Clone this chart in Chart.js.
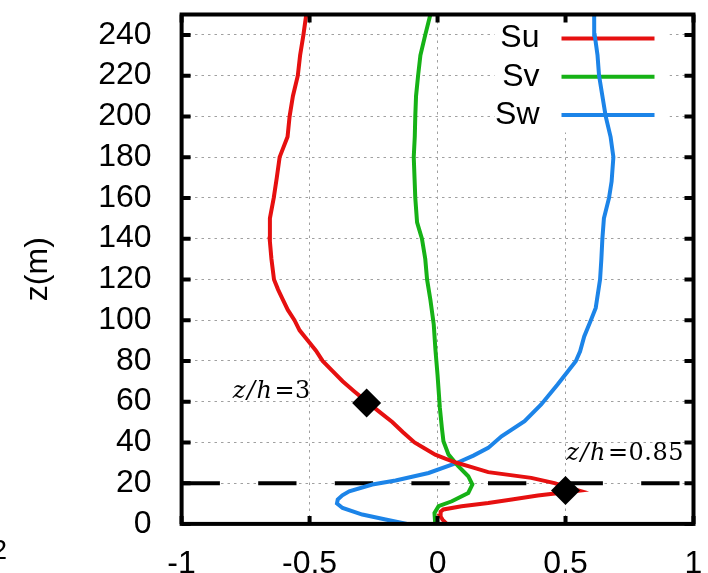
<!DOCTYPE html>
<html>
<head>
<meta charset="utf-8">
<script src="https://cdn.jsdelivr.net/npm/chart.js@4"></script>
<style>
html, body { margin: 0; padding: 0; background: #fff; overflow: hidden; }
#wrap { width: 708px; height: 573px; overflow: hidden; }
</style>
</head>
<body>
<div id="wrap"><canvas id="chart" width="708" height="600"></canvas></div>
<script>
// profiles: heights in m, values dimensionless
const heightsSu = [0, 2, 4, 6, 7.1, 8.7, 10.3, 12, 13.9, 15.5, 16.3, 17.5, 20, 22.6, 25.4, 28, 30, 32, 34, 37, 40, 45, 50, 55, 60, 65, 70, 75, 80, 85, 90, 95, 100, 105, 110, 115, 120, 130, 140, 150, 160, 170, 180, 190, 200, 210, 220, 230, 240, 250]
const valuesSu = [0.036, 0.02, 0.01, 0.012, 0.023, 0.094, 0.198, 0.29, 0.392, 0.5, 0.553, 0.52, 0.457, 0.366, 0.198, 0.13, 0.075, 0.03, -0.009, -0.05, -0.09, -0.135, -0.177, -0.227, -0.277, -0.325, -0.371, -0.41, -0.449, -0.475, -0.507, -0.539, -0.559, -0.585, -0.604, -0.623, -0.639, -0.649, -0.656, -0.655, -0.64, -0.628, -0.617, -0.586, -0.578, -0.565, -0.546, -0.537, -0.524, -0.513]

const heightsSv = [0, 5.4, 8.7, 11.1, 15.2, 19.3, 23.4, 28.3, 34, 40.6, 47, 57, 73, 85, 98, 110, 120, 130, 140, 148, 160, 170, 180, 190, 200, 210, 220, 230, 240, 250]
const valuesSv = [-0.009, -0.012, 0.004, 0.056, 0.12, 0.136, 0.12, 0.081, 0.043, 0.023, 0.017, 0.009, 0.0, -0.008, -0.015, -0.028, -0.041, -0.048, -0.061, -0.08, -0.087, -0.09, -0.093, -0.089, -0.087, -0.084, -0.076, -0.067, -0.048, -0.028]

const heightsSw = [0, 2.2, 4.6, 7.8, 10, 12, 14, 16, 19.3, 21.3, 25, 29.9, 33.5, 37.3, 43, 50.4, 58.6, 68.4, 79.8, 84.7, 92, 100, 106, 120, 130, 140, 150, 160, 168, 180, 190, 200, 210, 220, 230, 240, 250]
const valuesSw = [-0.119, -0.203, -0.294, -0.371, -0.393, -0.39, -0.372, -0.345, -0.255, -0.164, -0.035, 0.075, 0.14, 0.198, 0.25, 0.34, 0.405, 0.469, 0.54, 0.557, 0.573, 0.599, 0.618, 0.635, 0.64, 0.644, 0.65, 0.67, 0.68, 0.687, 0.676, 0.657, 0.644, 0.631, 0.625, 0.614, 0.612]

const seriesNames = ['Su', 'Sv', 'Sw']
const seriesColors = ['rgb(230, 16, 16)', 'rgb(22, 178, 22)', 'rgb(28, 132, 232)']

const markerValues = [-0.277, 0.5]
const markerHeights = [59.3, 16.4]
const markerTexts = ['=3', '=0.85']
const markerTextX = [-0.8, 0.503]
const markerTextZ = [61.6, 31.6]

const refHeight = 20   // h

const xTickValues = [-1, -0.5, 0, 0.5, 1]
const yTickValues = [0, 20, 40, 60, 80, 100, 120, 140, 160, 180, 200, 220, 240]

const FONT = "'Liberation Sans', Arial, sans-serif"
const MATH = "'DejaVu Serif', serif"

const toPoints = (xs, zs) => zs.map((z, i) => ({ x: xs[i], y: z }))

const curve = (name, values, heights, color) => ({
    label: name,
    data: toPoints(values, heights),
    showLine: true,
    borderColor: color,
    borderWidth: 4,
    pointRadius: 0,
    tension: 0,
    order: 1
})

const framePlugin = {
    id: 'frame',
    beforeDatasetsDraw(chart) {
        const { ctx, chartArea: area } = chart
        ctx.save()
        // key box hides the grid behind it
        ctx.fillStyle = '#fff'
        ctx.fillRect(area.right - 199, area.top + 2, 175, 116)
        ctx.font = `32px ${FONT}`
        ctx.textAlign = 'right'
        ctx.textBaseline = 'middle'
        seriesNames.forEach((name, i) => {
            const yy = area.top + 24 + i * 38.3
            ctx.fillStyle = '#000'
            ctx.fillText(name, area.right - 154, yy)
            ctx.strokeStyle = seriesColors[i]
            ctx.lineWidth = 4
            ctx.beginPath()
            ctx.moveTo(area.right - 132, yy)
            ctx.lineTo(area.right - 39, yy)
            ctx.stroke()
        })
        ctx.restore()
    },
    afterDraw(chart) {
        const { ctx, chartArea: area, scales: { x, y } } = chart
        ctx.save()
        ctx.strokeStyle = '#000'
        ctx.lineWidth = 4
        ctx.beginPath()
        for (const v of yTickValues) {
            const py = y.getPixelForValue(v)
            ctx.moveTo(area.left, py)
            ctx.lineTo(area.left + 9, py)
            ctx.moveTo(area.right, py)
            ctx.lineTo(area.right - 9, py)
        }
        for (const v of xTickValues) {
            const px = x.getPixelForValue(v)
            ctx.moveTo(px, area.bottom)
            ctx.lineTo(px, area.bottom - 8)
            ctx.moveTo(px, area.top)
            ctx.lineTo(px, area.top + 8)
        }
        ctx.stroke()
        ctx.strokeRect(area.left, area.top, area.right - area.left, area.bottom - area.top)

        // z/h labels next to the markers
        ctx.fillStyle = '#000'
        ctx.textAlign = 'left'
        ctx.textBaseline = 'alphabetic'
        markerTexts.forEach((text, i) => {
            const px = x.getPixelForValue(markerTextX[i])
            const py = y.getPixelForValue(markerTextZ[i])
            ctx.font = `italic 24px ${MATH}`
            ctx.letterSpacing = '1.5px'
            ctx.fillText('z/h', px, py)
            const w = ctx.measureText('z/h').width
            ctx.font = `24px ${MATH}`
            ctx.letterSpacing = '0.5px'
            ctx.fillText(text, px + w + 1, py)
        })
        ctx.letterSpacing = '0px'

        // cut-off label of the neighbouring panel
        ctx.font = `28px ${FONT}`
        ctx.textAlign = 'right'
        ctx.textBaseline = 'middle'
        ctx.fillText('2', 7, 551)
        ctx.restore()
    }
}

const tickFont = { family: FONT, size: 32 }
const gridOpts = { color: '#a0a0a0', lineWidth: 1, drawTicks: false }
const borderOpts = { display: false, dash: [2.5, 4] }

new Chart(document.getElementById('chart'), {
    type: 'scatter',
    data: {
        datasets: [
            {
                label: 'markers',
                data: toPoints(markerValues, markerHeights),
                pointStyle: 'rectRot',
                pointRadius: 14.5,
                pointBackgroundColor: '#000',
                pointBorderWidth: 0,
                showLine: false,
                order: 0
            },
            curve(seriesNames[0], valuesSu, heightsSu, seriesColors[0]),
            curve(seriesNames[1], valuesSv, heightsSv, seriesColors[1]),
            curve(seriesNames[2], valuesSw, heightsSw, seriesColors[2]),
            {
                label: 'h',
                data: [{ x: -1, y: refHeight }, { x: 1, y: refHeight }],
                showLine: true,
                borderColor: '#000',
                borderWidth: 4,
                borderDash: [38.3, 38.3],
                pointRadius: 0,
                order: 2
            }
        ]
    },
    options: {
        responsive: false,
        animation: false,
        events: [],
        layout: { padding: { left: 0, right: 12, top: 12.9, bottom: 0 } },
        plugins: { legend: { display: false }, tooltip: { enabled: false } },
        scales: {
            x: {
                type: 'linear',
                min: -1,
                max: 1,
                afterBuildTicks: scale => { scale.ticks = xTickValues.map(v => ({ value: v })) },
                afterFit: scale => {
                    scale.height = 600 - 523.9
                    scale.paddingLeft = 0
                    scale.paddingRight = 0
                },
                grid: gridOpts,
                border: borderOpts,
                ticks: { padding: 21, font: tickFont, color: '#000', maxRotation: 0, autoSkip: false, callback: v => String(v) }
            },
            y: {
                type: 'linear',
                min: 0,
                max: 250,
                afterBuildTicks: scale => { scale.ticks = yTickValues.map(v => ({ value: v })) },
                afterFit: scale => {
                    scale.width = 181.6
                    scale.paddingTop = 0
                    scale.paddingBottom = 0
                },
                grid: gridOpts,
                border: borderOpts,
                ticks: { padding: 30, font: tickFont, color: '#000', autoSkip: false, callback: v => String(v) },
                title: { display: true, text: 'z(m)', color: '#000', font: { family: FONT, size: 32 }, padding: { top: 19.3, bottom: 0 } }
            }
        }
    },
    plugins: [framePlugin]
})
</script>
</body>
</html>
